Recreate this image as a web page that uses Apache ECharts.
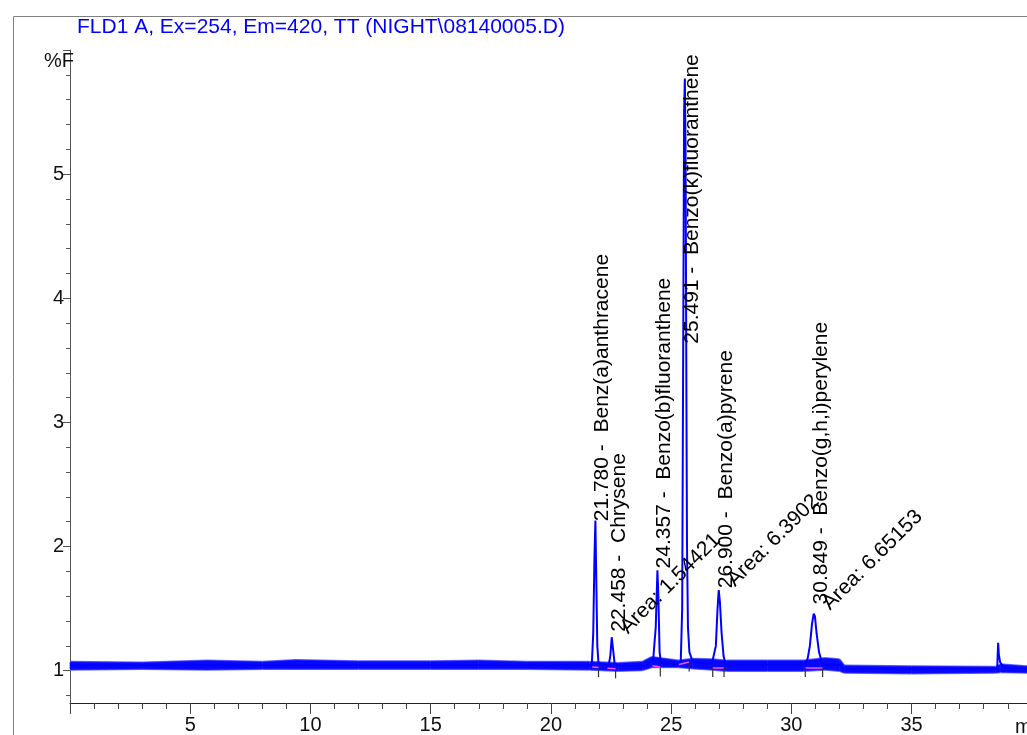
<!DOCTYPE html>
<html><head><meta charset="utf-8">
<script src="https://cdn.jsdelivr.net/npm/echarts@6/dist/echarts.min.js"></script>
<style>html,body{margin:0;padding:0;background:#fff}#c{width:1027px;height:735px}</style>
</head><body><div id="c"></div>
<script>
// ---- data ----
const titleText = 'FLD1 A, Ex=254, Em=420, TT (NIGHT\\08140005.D)';
const xMajorTicks = [0, 5, 10, 15, 20, 25, 30, 35];
const xLabels = [5, 10, 15, 20, 25, 30, 35];
const xMinorTicks = [1,2,3,4,6,7,8,9,11,12,13,14,16,17,18,19,21,22,23,24,26,27,28,29,31,32,33,34,36,37,38,39];
const yMajorTicks = [1, 2, 3, 4, 5, 6];
const yLabels = [1, 2, 3, 4, 5];
const yMinorTicks = [0.8,1.2,1.4,1.6,1.8,2.2,2.4,2.6,2.8,3.2,3.4,3.6,3.8,4.2,4.4,4.6,4.8,5.2,5.4,5.6,5.8];

// signal trace (time in min, %F)
const traceT = [0, 21.70, 21.76, 21.81, 21.85, 21.89, 21.93, 21.98, 22.40, 22.47, 22.53, 22.58, 22.65, 22.75,
  24.00, 24.15, 24.25, 24.30, 24.36, 24.43, 24.47, 24.52, 24.58, 25.30, 25.40, 25.46, 25.50, 25.54, 25.57, 25.60,
  25.63, 25.66, 25.70, 25.76, 25.90, 26.70, 26.78, 26.86, 26.93, 26.98, 27.03, 27.10, 27.18, 27.26, 30.60, 30.68,
  30.77, 30.86, 30.93, 30.98, 31.05, 31.15, 31.28, 31.40, 32.0, 32.2, 38.56, 38.60, 38.63, 38.68, 38.78, 38.95, 39.8];
const traceY = [1.045, 1.045, 1.30, 1.90, 2.21, 1.70, 1.20, 1.06, 1.04, 1.12, 1.27, 1.18, 1.06, 1.04,
  1.04, 1.08, 1.08, 1.08, 1.35, 1.81, 1.60, 1.15, 1.06, 1.05, 1.07, 1.50, 3.50, 5.50, 5.77, 5.20,
  3.50, 2.00, 1.35, 1.15, 1.07, 1.06, 1.06, 1.20, 1.50, 1.65, 1.55, 1.30, 1.12, 1.05, 1.05, 1.10,
  1.20, 1.38, 1.46, 1.44, 1.30, 1.15, 1.06, 1.05, 1.045, 1.015, 1.015, 1.225, 1.13, 1.07, 1.04, 1.02, 1.015];

// baseline noise band envelope
const bandT    = [0, 3, 5.7, 8, 9.4, 12, 15, 17, 19, 21.6, 22.8, 23.8, 24.2, 25.3, 25.9, 26.7, 27.3, 29, 30.5, 31.4, 32.0, 32.2, 35, 38.5, 38.7, 39.8];
const bandLow  = [1.01, 1.015, 1.01, 1.015, 1.015, 1.015, 1.015, 1.015, 1.015, 1.01, 1.00, 1.005, 1.03, 1.03, 1.02, 1.01, 1.00, 1.00, 1.00, 1.01, 1.00, 0.985, 0.98, 0.985, 0.99, 0.985];
const bandHigh = [1.07, 1.065, 1.08, 1.07, 1.085, 1.075, 1.075, 1.08, 1.07, 1.07, 1.06, 1.07, 1.11, 1.08, 1.095, 1.09, 1.08, 1.08, 1.08, 1.10, 1.09, 1.04, 1.035, 1.03, 1.05, 1.035];

// peaks and annotations
const peakTime   = [21.85, 22.53, 24.43, 25.57, 26.98, 30.93];
const peakHeight = [2.21, 1.27, 1.81, 5.77, 1.65, 1.46];
const peakText = ['21.780 -  Benz(a)anthracene', '22.458 -  Chrysene', '24.357 -  Benzo(b)fluoranthene',
  '25.491 -  Benzo(k)fluoranthene', '26.900 -  Benzo(a)pyrene', '30.849 -  Benzo(g,h,i)perylene'];
const peakTextStart = [2.20, 1.31, 1.82, 3.63, 1.66, 1.53];
const areaText = ['Area: 1.54421', 'Area: 6.3902', 'Area: 6.65153'];
const areaPeak = [1, 4, 5];

// integration baselines and drop marks
const baseSegs = [[21.72, 1.03, 21.98, 1.025], [22.35, 1.02, 22.69, 1.015], [24.22, 1.04, 24.55, 1.03],
  [25.32, 1.05, 25.75, 1.07], [26.73, 1.025, 27.20, 1.025], [30.58, 1.025, 31.30, 1.025]];
const dropT = [21.98, 22.69, 24.55, 25.75, 26.73, 27.20, 30.58, 31.30];
const dropV = [1.025, 1.015, 1.03, 1.07, 1.025, 1.025, 1.025, 1.025];

// ---- chart ----
const FONT = '"Liberation Sans", Arial, sans-serif';
const chart = echarts.init(document.getElementById('c'), null, {renderer: 'canvas'});
const yMin = 0.74, yMax = 6.0, xMin = 0, xMax = 39.8;

function renderBand(params, api) {
  const i = params.dataIndex;
  if (i >= bandT.length - 1) return null;
  const a = api.coord([bandT[i], bandLow[i]]);
  const b = api.coord([bandT[i + 1], bandLow[i + 1]]);
  const c = api.coord([bandT[i + 1], bandHigh[i + 1]]);
  const d = api.coord([bandT[i], bandHigh[i]]);
  return {type: 'group', children: [
    {type: 'polyline', shape: {points: [a, b]}, style: {stroke: '#6a6aff', lineWidth: 2.4, fill: null}},
    {type: 'polyline', shape: {points: [d, c]}, style: {stroke: '#6a6aff', lineWidth: 2.4, fill: null}},
    {type: 'polygon', shape: {points: [a, b, c, d]}, style: {fill: '#0808ff', stroke: '#0808ff', lineWidth: 0.6}}
  ]};
}

chart.setOption({
  animation: false,
  backgroundColor: '#fff',
  grid: {left: 70, right: 0, top: 50, bottom: 30, containLabel: false},
  xAxis: [{
    type: 'value', min: xMin, max: xMax, interval: 5,
    axisLine: {lineStyle: {color: '#222', width: 1}},
    axisTick: {customValues: xMajorTicks, length: 11, lineStyle: {color: '#444'}},
    axisLabel: {customValues: xLabels, fontFamily: FONT, fontSize: 20, color: '#111', margin: 12, verticalAlign: 'top'},
    splitLine: {show: false}
  }, {
    type: 'value', min: xMin, max: xMax, position: 'bottom',
    axisLine: {show: false},
    axisTick: {customValues: xMinorTicks, length: 6, lineStyle: {color: '#444'}},
    axisLabel: {show: false}, splitLine: {show: false}
  }],
  yAxis: [{
    type: 'value', min: yMin, max: yMax,
    axisLine: {show: true, lineStyle: {color: '#555', width: 1}},
    axisTick: {show: true, customValues: yMajorTicks, length: 7, lineStyle: {color: '#555'}},
    axisLabel: {customValues: yLabels, fontFamily: FONT, fontSize: 20, color: '#111', margin: 6},
    splitLine: {show: false}
  }, {
    type: 'value', min: yMin, max: yMax, position: 'left',
    axisLine: {show: false},
    axisTick: {show: true, customValues: yMinorTicks, length: 4, lineStyle: {color: '#555'}},
    axisLabel: {show: false}, splitLine: {show: false}
  }],
  series: [
    {type: 'custom', z: 2, silent: true, renderItem: renderBand,
     encode: {x: 0, y: [1, 2]},
     data: bandT.map((t, i) => [t, bandLow[i], bandHigh[i]])},
    {type: 'line', symbol: 'none', z: 3, lineStyle: {color: '#0000ff', width: 2},
     data: traceT.map((t, i) => [t, traceY[i]])},
    {type: 'lines', coordinateSystem: 'cartesian2d', z: 4, silent: true,
     lineStyle: {color: '#ff4dff', width: 1.5, opacity: 1},
     data: baseSegs.map(s => ({coords: [[s[0], s[1]], [s[2], s[3]]]}))},
    {type: 'scatter', z: 4, symbol: 'rect', symbolSize: [1.2, 9], symbolOffset: [0, 5],
     itemStyle: {color: '#333', opacity: 1}, data: dropT.map((t, i) => [t, dropV[i]])},
    {type: 'scatter', z: 5, symbolSize: 1, itemStyle: {color: 'transparent', opacity: 1},
     data: peakTime.map((t, i) => ({value: [t, peakTextStart[i]], name: peakText[i]})),
     label: {show: true, formatter: p => p.name, rotate: 90, position: [-3, 0], align: 'left', verticalAlign: 'top',
       fontFamily: FONT, fontSize: 21, color: '#000', opacity: 1}},
    {type: 'scatter', z: 5, symbolSize: 1, itemStyle: {color: 'transparent', opacity: 1},
     data: areaPeak.map((k, i) => ({value: [peakTime[k], peakHeight[k]], name: areaText[i]})),
     label: {show: true, formatter: p => p.name, rotate: 45, position: [20, 1], align: 'left', verticalAlign: 'bottom',
       fontFamily: FONT, fontSize: 21, color: '#000', opacity: 1}}
  ],
  graphic: [
    {type: 'rect', left: 11, top: 14, z: 0, shape: {width: 1100, height: 800}, style: {fill: 'none', stroke: '#808080', lineWidth: 1}},
    {type: 'text', left: 77, top: 17, z: 10, style: {text: titleText, fill: '#0000ff', font: '21px ' + FONT}},
    {type: 'text', left: 44, top: 51, z: 10, style: {text: '%F', fill: '#111', font: '20px ' + FONT}},
    {type: 'text', left: 1015, top: 717, z: 10, style: {text: 'min', fill: '#111', font: '20px ' + FONT}}
  ]
});
</script></body></html>
